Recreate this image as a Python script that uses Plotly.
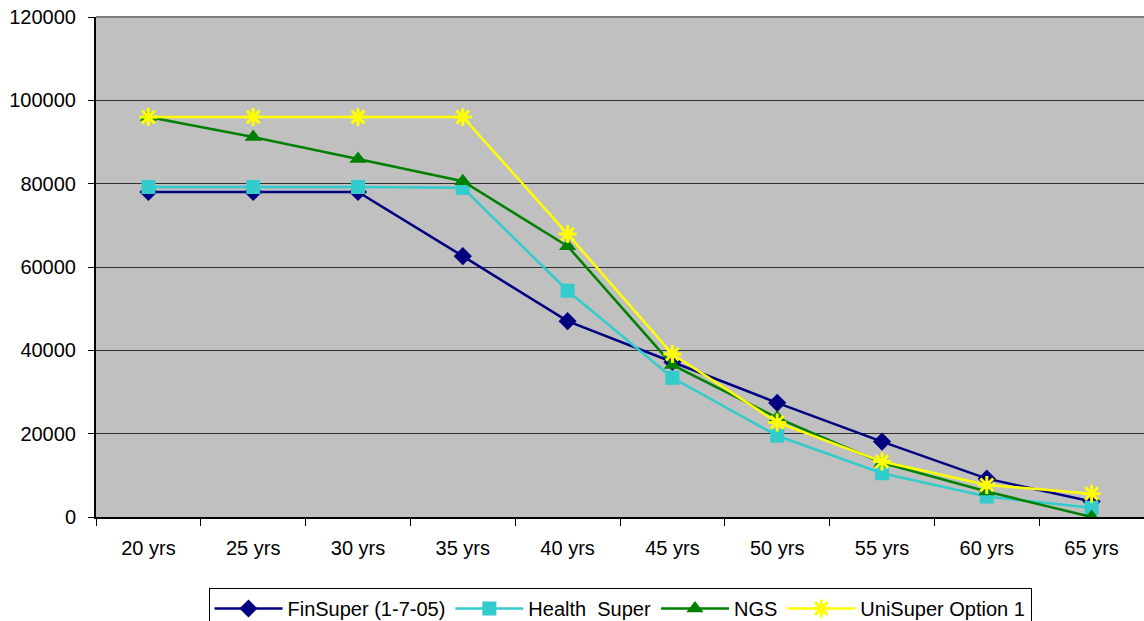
import plotly.graph_objects as go

categories = ["20 yrs", "25 yrs", "30 yrs", "35 yrs", "40 yrs", "45 yrs", "50 yrs", "55 yrs", "60 yrs", "65 yrs"]
finsuper = [78000, 78000, 78000, 62600, 47000, 37200, 27400, 18100, 9200, 3700]
health_super = [79200, 79200, 79200, 79000, 54300, 33400, 19500, 10500, 4900, 2200]
ngs = [96000, 91200, 85900, 80600, 65000, 36500, 23800, 13000, 6100, 0]
unisuper = [96000, 96000, 96000, 96000, 67900, 39100, 22700, 13300, 7700, 5600]
y_ticks = [0, 20000, 40000, 60000, 80000, 100000, 120000]

FONT = "Liberation Sans, Arial, sans-serif"

fig = go.Figure()
series = [
    ("FinSuper (1-7-05)", finsuper, "#000080", dict(symbol="diamond", size=14)),
    ("Health  Super", health_super, "#33CCCC", dict(symbol="square", size=14)),
    ("NGS", ngs, "#008000", dict(symbol="triangle-up", size=15)),
    ("UniSuper Option 1", unisuper, "#FFFF00", dict(symbol="asterisk-open", size=15, line=dict(width=3, color="#FFFF00"))),
]
for name, vals, color, mk in series:
    fig.add_trace(go.Scatter(
        x=categories, y=vals, name=name, mode="lines+markers",
        line=dict(color=color, width=2.5),
        marker=dict(color=color, **mk),
    ))

fig.update_layout(
    width=1144, height=621,
    margin=dict(l=96, r=0, t=17, b=104, autoexpand=False),
    paper_bgcolor="white",
    plot_bgcolor="#C0C0C0",
    font=dict(family=FONT, size=20, color="black"),
    showlegend=True,
    legend=dict(
        orientation="h", x=0.5, xanchor="center", y=-0.142, yanchor="top",
        bordercolor="black", borderwidth=1, bgcolor="white",
        font=dict(family=FONT, size=20, color="black"),
        itemwidth=68, tracegroupgap=0,
    ),
)
fig.update_xaxes(
    type="category", range=[-0.5, 9.5],
    showgrid=False, showline=True, linecolor="black", linewidth=2,
    ticks="outside", tickson="boundaries", ticklen=7, tickcolor="black",
    ticklabelstandoff=12,
    tickfont=dict(family=FONT, size=20, color="black"),
    zeroline=False,
)
fig.update_yaxes(
    range=[0, 120000], tickvals=y_ticks, ticktext=[str(v) for v in y_ticks],
    showgrid=True, gridcolor="#303030", gridwidth=1,
    showline=True, linecolor="black", linewidth=2,
    ticks="outside", ticklen=6, tickcolor="black",
    ticklabelstandoff=8,
    tickfont=dict(family=FONT, size=20, color="black"),
    zeroline=False,
)
# top border of the plot area
fig.add_shape(type="line", xref="paper", yref="paper", x0=0, x1=1, y0=1, y1=1,
              line=dict(color="#808080", width=2))

fig.write_html("out.html")
